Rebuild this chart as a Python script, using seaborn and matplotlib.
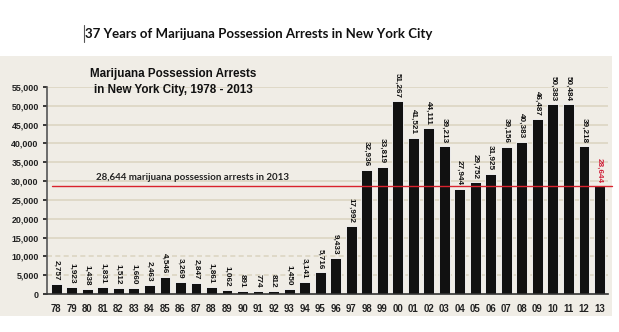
import matplotlib
matplotlib.use("Agg")
import matplotlib.pyplot as plt
import seaborn as sns
import pandas as pd

years = ["78", "79", "80", "81", "82", "83", "84", "85", "86", "87", "88", "89",
         "90", "91", "92", "93", "94", "95", "96", "97", "98", "99", "00", "01",
         "02", "03", "04", "05", "06", "07", "08", "09", "10", "11", "12", "13"]
arrests = [2757, 1923, 1438, 1831, 1512, 1660, 2463, 4546, 3269, 2847, 1861, 1062,
           891, 774, 812, 1450, 3141, 5716, 9433, 17992, 32936, 33819, 51267, 41521,
           44111, 39213, 27944, 29752, 31925, 39156, 40383, 46487, 50383, 50484, 39218, 28644]
ref_value = 28644
yticks = list(range(0, 55001, 5000))

sns.set_theme(style="white")
plt.rcParams['font.family'] = ['Liberation Sans', 'DejaVu Sans']

fig = plt.figure(figsize=(6.19, 3.32), dpi=100)
fig.patch.set_facecolor("white")

bg = fig.add_axes([0, 1 - 316 / 332, 612 / 619, (316 - 56) / 332])
bg.set_facecolor("#f0ede6")
bg.set_xticks([])
bg.set_yticks([])
for s in bg.spines.values():
    s.set_visible(False)
bg.set_zorder(0)

ax = fig.add_axes([47 / 619, 1 - 294 / 332, 561 / 619, 207 / 332])
ax.set_zorder(2)
ax.patch.set_alpha(0)

df = pd.DataFrame({"year": years, "arrests": arrests})
sns.barplot(data=df, x="year", y="arrests", color="#111111", width=0.7,
            edgecolor="white", linewidth=0.6, saturation=1, ax=ax)

ax.set_ylim(0, 55000)
ax.set_xlim(-0.6, len(years) - 0.45)
ax.set_yticks(yticks)
ax.set_yticklabels([f"{t:,}" for t in yticks], fontsize=6.4, fontweight="bold", color="#222222")
ax.tick_params(axis="x", labelsize=6.9, length=2, pad=5, colors="#222222")
ax.tick_params(axis="y", length=3, pad=3, left=True, colors="#222222")
for lab in ax.get_xticklabels():
    lab.set_fontweight("bold")
ax.set_xlabel("")
ax.set_ylabel("")

for t in yticks[1:]:
    ls = (0, (3, 2)) if t <= 10000 else "-"
    ax.axhline(t, color="#dcd5c2", lw=1.2, ls=ls, zorder=0)

for s in ["top", "right"]:
    ax.spines[s].set_visible(False)
ax.spines["left"].set_color("#555555")
ax.spines["left"].set_linewidth(1.2)
ax.spines["bottom"].set_color("#333333")
ax.spines["bottom"].set_linewidth(1.2)

for i, v in enumerate(arrests):
    color = "#d0213a" if i == len(arrests) - 1 else "#111111"
    ax.text(i, v + 900, f"{v:,}", rotation=270, ha="center", va="bottom",
            fontsize=5.9, fontweight="bold", color=color, clip_on=False)

ax.axhline(ref_value, xmin=0.009, xmax=1.007, color="#d9232e", lw=1.0, zorder=3, clip_on=False)

fig.text(96 / 619, 1 - 177 / 332, f"{ref_value:,} marijuana possession arrests in 2013",
         fontsize=7.0, fontweight="bold", color="#222222", family=["Lato", "DejaVu Sans"],
         ha="left", va="center", zorder=5)

fig.text(173 / 619, 1 - 82 / 332, "Marijuana Possession Arrests\nin New York City, 1978 - 2013",
         fontsize=8.4, fontweight="bold", color="#111111", ha="center", va="center",
         linespacing=1.35, zorder=5)

fig.text(85 / 619, 1 - 34 / 332, "37 Years of Marijuana Possession Arrests in New York City",
         fontsize=9.5, fontweight="bold", color="#111111", ha="left", va="center",
         family=["Lato", "DejaVu Sans"])
fig.add_artist(plt.Line2D([83.5 / 619, 83.5 / 619], [1 - 42 / 332, 1 - 25 / 332],
                          color="#555555", lw=0.8, transform=fig.transFigure))

fig.savefig("out.png", dpi=100)
